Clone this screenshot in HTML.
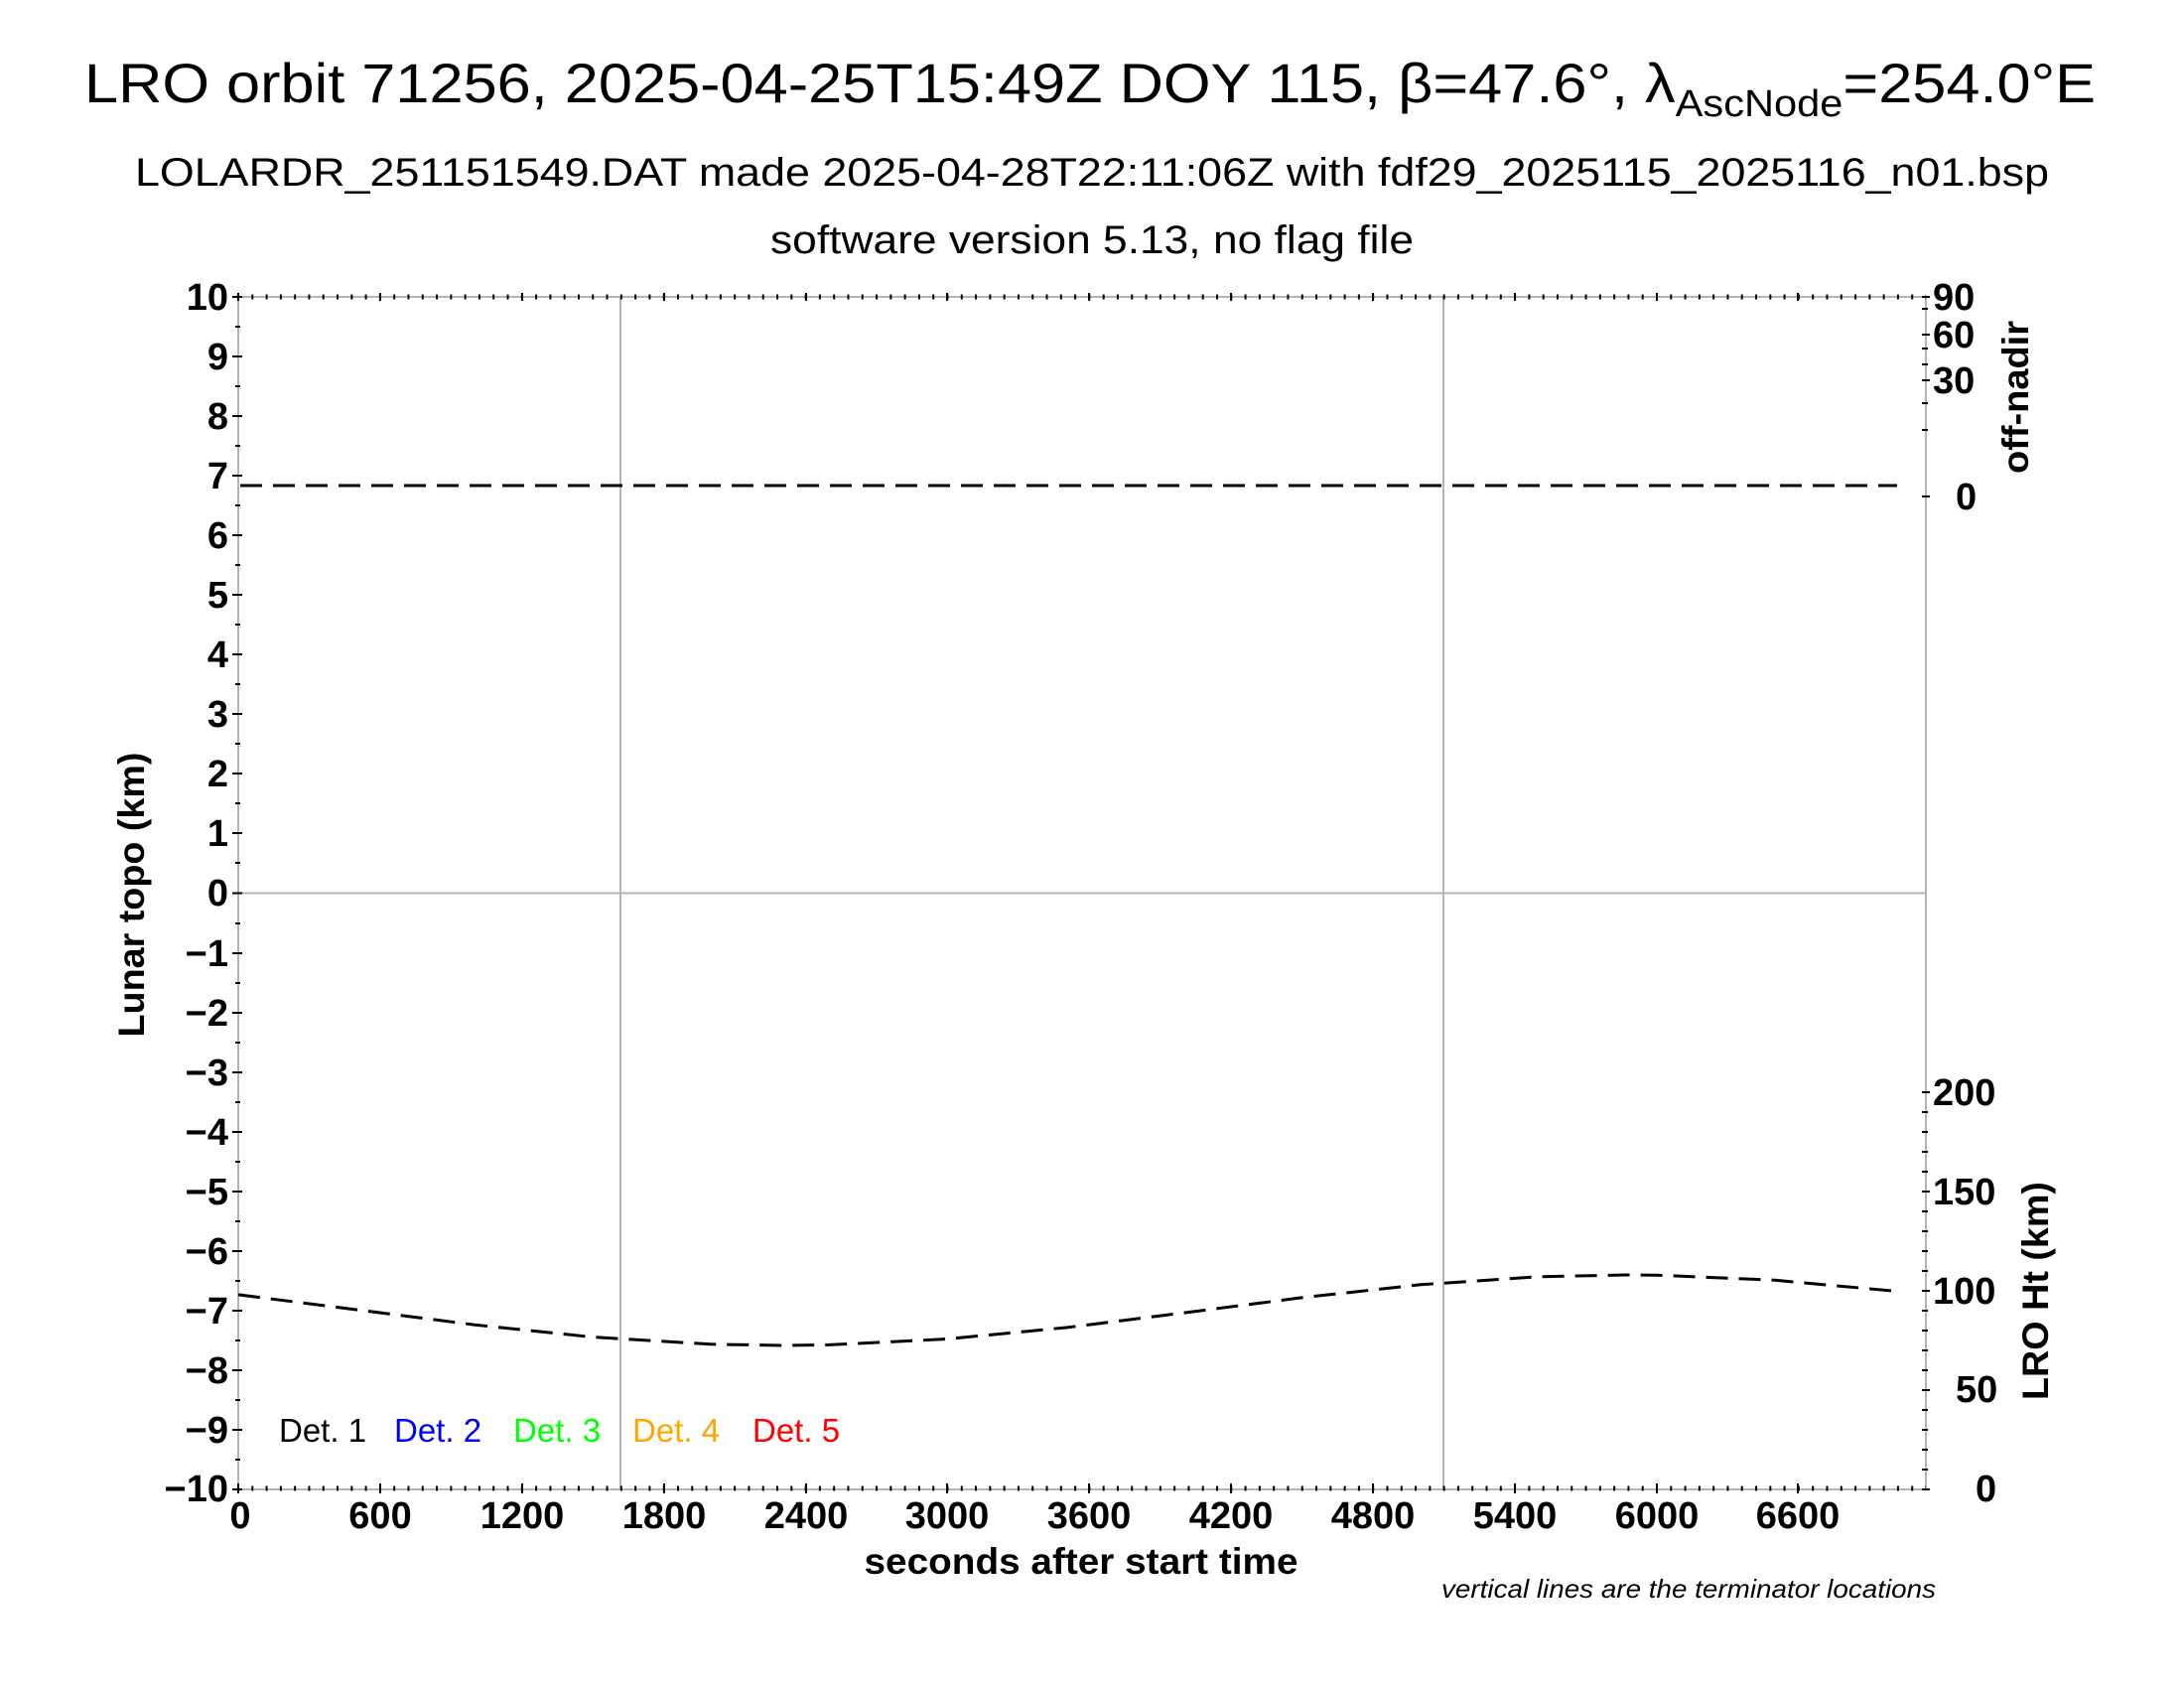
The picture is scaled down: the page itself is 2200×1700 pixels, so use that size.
<!DOCTYPE html>
<html><head><meta charset="utf-8"><style>
html,body{margin:0;padding:0;background:#fff;}
svg{display:block;}
text{font-family:"Liberation Sans",sans-serif;}
.b{font-weight:bold;}
</style></head><body>
<svg width="2200" height="1700" viewBox="0 0 2200 1700" xmlns="http://www.w3.org/2000/svg">
<rect width="2200" height="1700" fill="#fff"/>
<text x="1098" y="103" font-size="56" text-anchor="middle" textLength="2026" lengthAdjust="spacingAndGlyphs">LRO orbit 71256, 2025-04-25T15:49Z DOY 115, β=47.6°, λ<tspan font-size="38" dy="14">AscNode</tspan><tspan dy="-14">=254.0°E</tspan></text>
<text x="1100" y="187" font-size="40" text-anchor="middle" textLength="1928" lengthAdjust="spacingAndGlyphs">LOLARDR_251151549.DAT made 2025-04-28T22:11:06Z with fdf29_2025115_2025116_n01.bsp</text>
<text x="1100" y="255" font-size="40" text-anchor="middle" textLength="648" lengthAdjust="spacingAndGlyphs">software version 5.13, no flag file</text>

<g stroke="#b4b4b4" stroke-width="2" fill="none">
<rect x="240" y="299" width="1700" height="1201"/>
<line x1="240" y1="899.5" x2="1940" y2="899.5"/>
<line x1="625" y1="299" x2="625" y2="1500"/>
<line x1="1454" y1="299" x2="1454" y2="1500"/>
</g>
<g stroke="#000" stroke-width="2">
<path d="
M234 299h10 M234 359h10 M234 419h10 M234 479h10 M234 539h10 M234 599h10 M234 659h10 M234 719h10 M234 779h10 M234 839h10 M234 899.5h10 M234 960h10 M234 1020h10 M234 1080h10 M234 1140h10 M234 1200h10 M234 1260h10 M234 1320h10 M234 1380h10 M234 1440h10 M234 1500h10
M237 329h5 M237 389h5 M237 449h5 M237 509h5 M237 569h5 M237 629h5 M237 689h5 M237 749h5 M237 809h5 M237 869h5 M237 930h5 M237 990h5 M237 1050h5 M237 1110h5 M237 1170h5 M237 1230h5 M237 1290h5 M237 1350h5 M237 1410h5 M237 1470h5
"/>
<path d="
M240 1494v10 M383 1494v10 M526 1494v10 M669 1494v10 M812 1494v10 M954 1494v10 M1097 1494v10 M1240 1494v10 M1383 1494v10 M1526 1494v10 M1669 1494v10 M1811 1494v10
M240 295v8 M383 295v8 M526 295v8 M669 295v8 M812 295v8 M954 295v8 M1097 295v8 M1240 295v8 M1383 295v8 M1526 295v8 M1669 295v8 M1811 295v8
"/>
<path stroke-dasharray="2 12.29" stroke-dashoffset="-13.29" d="M240 1499h1700" stroke-width="5"/>
<path stroke-dasharray="2 12.29" stroke-dashoffset="-13.29" d="M240 299h1700" stroke-width="5"/>
<path d="M1936 1500h8 M1936 1480h6 M1936 1460h6 M1936 1440h6 M1936 1420h6 M1936 1400h8 M1936 1380h6 M1936 1360h6 M1936 1340h6 M1936 1320h6 M1936 1300h8 M1936 1280h6 M1936 1260h6 M1936 1240h6 M1936 1220h6 M1936 1200h8 M1936 1180h6 M1936 1160h6 M1936 1140h6 M1936 1120h6 M1936 1100h8
M1936 299h8 M1936 311h6 M1936 337h8 M1936 351h6 M1936 367h6 M1936 383h8 M1936 406h6 M1936 433h6 M1936 500h8"/>
</g>

<g class="b" font-size="38" text-anchor="end" dominant-baseline="central">
<text x="230" y="300">10</text><text x="230" y="360">9</text><text x="230" y="420">8</text><text x="230" y="480">7</text><text x="230" y="540">6</text><text x="230" y="600">5</text><text x="230" y="660">4</text><text x="230" y="720">3</text><text x="230" y="780">2</text><text x="230" y="840">1</text><text x="230" y="900">0</text><text x="230" y="961">−1</text><text x="230" y="1021">−2</text><text x="230" y="1081">−3</text><text x="230" y="1141">−4</text><text x="230" y="1201">−5</text><text x="230" y="1261">−6</text><text x="230" y="1321">−7</text><text x="230" y="1381">−8</text><text x="230" y="1441">−9</text><text x="230" y="1500">−10</text>
</g>
<g class="b" font-size="38" text-anchor="middle">
<text x="242" y="1539">0</text><text x="383" y="1539">600</text><text x="526" y="1539">1200</text><text x="669" y="1539">1800</text><text x="812" y="1539">2400</text><text x="954" y="1539">3000</text><text x="1097" y="1539">3600</text><text x="1240" y="1539">4200</text><text x="1383" y="1539">4800</text><text x="1526" y="1539">5400</text><text x="1669" y="1539">6000</text><text x="1811" y="1539">6600</text>
</g>
<text class="b" x="1089" y="1585" font-size="37" text-anchor="middle" textLength="437" lengthAdjust="spacingAndGlyphs">seconds after start time</text>
<text x="1950" y="1609" font-size="26" font-style="italic" text-anchor="end" textLength="498" lengthAdjust="spacingAndGlyphs">vertical lines are the terminator locations</text>
<text class="b" font-size="37" text-anchor="middle" transform="translate(145,901) rotate(-90)" textLength="287" lengthAdjust="spacingAndGlyphs">Lunar topo (km)</text>

<g class="b" font-size="38" text-anchor="start" dominant-baseline="central">
<text x="1947" y="300">90</text><text x="1947" y="338">60</text><text x="1947" y="384">30</text><text x="1970" y="501">0</text>
<text x="1947" y="1101">200</text><text x="1947" y="1201">150</text><text x="1947" y="1301">100</text><text x="1970" y="1400">50</text><text x="1990" y="1500">0</text>
</g>
<text class="b" font-size="37" text-anchor="middle" transform="translate(2043,400) rotate(-90)" textLength="154" lengthAdjust="spacingAndGlyphs">off-nadir</text>
<text class="b" font-size="37" text-anchor="middle" transform="translate(2063,1300) rotate(-90)" textLength="220" lengthAdjust="spacingAndGlyphs">LRO Ht (km)</text>

<g font-size="33">
<text x="281" y="1452" fill="#000">Det. 1</text>
<text x="397" y="1452" fill="#0000ff">Det. 2</text>
<text x="517" y="1452" fill="#00ff00">Det. 3</text>
<text x="637" y="1452" fill="#ffa500">Det. 4</text>
<text x="758" y="1452" fill="#ff0000">Det. 5</text>
</g>

<g fill="none" stroke="#000" stroke-width="3" stroke-dasharray="22 11">
<path d="M242 489 L1911 489"/>
<path d="M240 1303.9 L359 1319 L478 1334.2 L597 1346.6 L716 1353.8 L788 1355 L835 1354.4 L954 1348.5 L1074 1337 L1193 1322.1 L1312 1306.8 L1431 1293.8 L1550 1285.8 L1638 1284 L1669 1284.2 L1788 1289.3 L1908 1300.2"/>
</g>
</svg>
</body></html>
